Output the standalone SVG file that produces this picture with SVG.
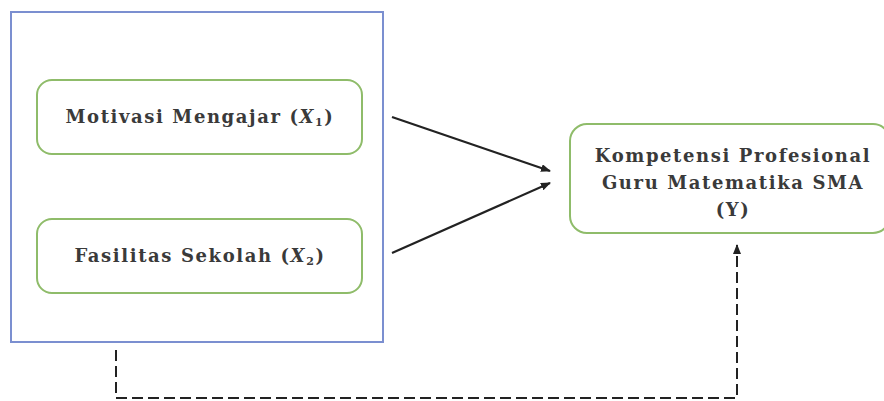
<svg xmlns="http://www.w3.org/2000/svg" width="884" height="401" viewBox="0 0 884 401">
<style>
.node{fill:#fff;stroke:#8fbc6a;stroke-width:2}
.t{font-family:"DejaVu Serif","Liberation Serif",serif;font-size:18px;font-weight:bold;letter-spacing:1.6px;fill:#3a3a3a;text-anchor:middle}
.c{fill:none;stroke:#222;stroke-width:2.2}
.d{fill:none;stroke:#222;stroke-width:2;stroke-dasharray:11,5}
</style>
<defs>
<marker id="ah" markerWidth="10" markerHeight="8" refX="9" refY="4" orient="auto" markerUnits="userSpaceOnUse">
<path d="M0,0 L10,4 L0,8 z" fill="#222"/>
</marker>
</defs>
<rect width="884" height="401" fill="#fff"/>
<g id="group">
<rect x="11" y="12" width="372" height="330" fill="#fff" stroke="#7b8fd0" stroke-width="2"/>
</g>
<g id="x1">
<rect class="node" x="37" y="80" width="325" height="74" rx="15"/>
<text class="t" x="200" y="123">Motivasi Mengajar (<tspan font-style="italic">X</tspan><tspan font-size="11" dy="3">1</tspan><tspan dy="-3">)</tspan></text>
</g>
<g id="x2">
<rect class="node" x="37" y="219" width="325" height="74" rx="15"/>
<text class="t" x="200" y="262">Fasilitas Sekolah (<tspan font-style="italic">X</tspan><tspan font-size="11" dy="3">2</tspan><tspan dy="-3">)</tspan></text>
</g>
<g id="y">
<rect class="node" x="570" y="124" width="320" height="109" rx="17"/>
<text class="t" x="733" y="162">Kompetensi Profesional</text>
<text class="t" x="733" y="189">Guru Matematika SMA</text>
<text class="t" x="733" y="216">(Y)</text>
</g>
<g id="connectors">
<line class="c" x1="392" y1="117" x2="550" y2="171" marker-end="url(#ah)"/>
<line class="c" x1="392" y1="253" x2="550" y2="183" marker-end="url(#ah)"/>
<path class="d" d="M116,350 V398 H737 V245" marker-end="url(#ah)"/>
</g>
</svg>
